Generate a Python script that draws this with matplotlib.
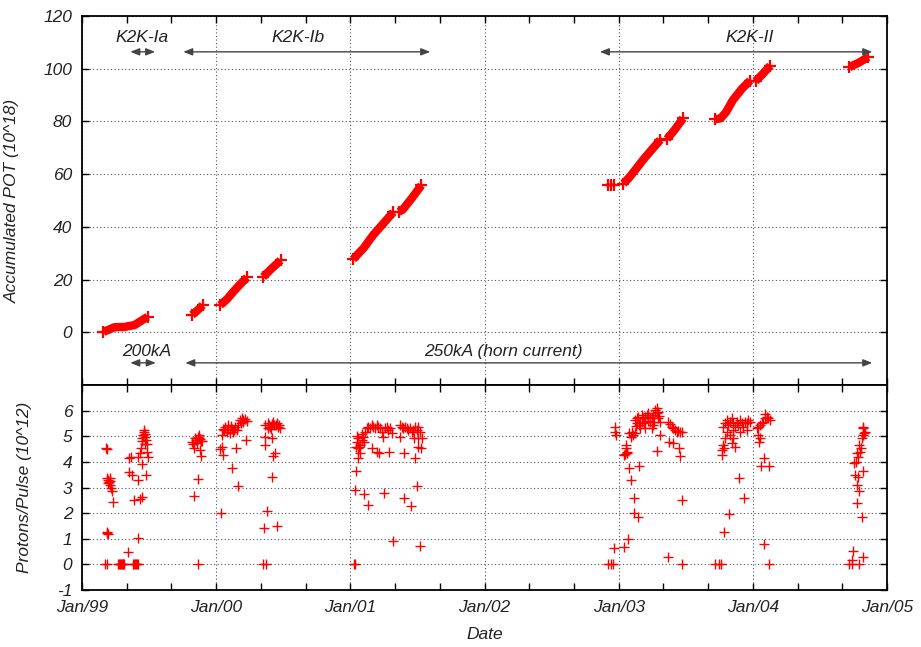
import matplotlib
matplotlib.use("Agg")
import matplotlib.pyplot as plt
import numpy as np

plt.rcParams['font.family'] = ['Liberation Sans', 'DejaVu Sans']
plt.rcParams['font.style'] = 'italic'
plt.rcParams['font.size'] = 12.5
plt.rcParams['axes.unicode_minus'] = False

# ---------------- data ----------------
year_ticks = [1999, 2000, 2001, 2002, 2003, 2004, 2005]
year_labels = ['Jan/99', 'Jan/00', 'Jan/01', 'Jan/02', 'Jan/03', 'Jan/04', 'Jan/05']

# accumulated POT (10^18), one list per beam run: (decimal year, value)
pot_run_99a = [(1999.16, 0.2), (1999.20, 1.0), (1999.24, 1.9), (1999.27, 2.0), (1999.32, 2.0),
               (1999.34, 2.3), (1999.39, 2.7), (1999.43, 4.0), (1999.49, 5.9)]
pot_run_99b = [(1999.82, 6.6), (1999.86, 8.3), (1999.90, 10.3)]
pot_run_00a = [(2000.03, 10.3), (2000.08, 12.5), (2000.13, 15.5), (2000.18, 18.3), (2000.23, 20.8)]
pot_run_00b = [(2000.35, 21.0), (2000.41, 24.0), (2000.48, 27.3)]
pot_run_01a = [(2001.02, 27.7), (2001.10, 32.0), (2001.17, 36.9), (2001.25, 41.5), (2001.32, 45.6)]
pot_run_01b = [(2001.36, 45.7), (2001.39, 46.5), (2001.46, 51.0), (2001.53, 55.8)]
pot_run_02 = [(2002.92, 55.9), (2002.945, 55.9), (2002.965, 56.0)]
pot_run_03a = [(2003.035, 56.4), (2003.08, 58.8), (2003.13, 62.0), (2003.18, 65.3), (2003.25, 69.5), (2003.31, 73.0)]
pot_run_03b = [(2003.36, 73.3), (2003.42, 77.0), (2003.48, 81.2)]
pot_run_03c = [(2003.72, 80.8), (2003.76, 81.2), (2003.80, 83.5), (2003.85, 88.0), (2003.92, 92.5), (2003.98, 95.5)]
pot_run_04a = [(2004.02, 95.3), (2004.07, 97.8), (2004.13, 101.2)]
pot_run_04b = [(2004.72, 100.6), (2004.79, 102.3), (2004.86, 104.4)]

# protons per pulse (10^12): (decimal year, value)
ppp_1999 = [(1999.179, 4.56), (1999.184, 4.50), (1999.175, 0.0), (1999.19, 0.0),
            (1999.184, 3.39), (1999.196, 3.30), (1999.201, 3.20), (1999.209, 3.10), (1999.216, 2.97),
            (1999.221, 2.86), (1999.191, 3.16), (1999.206, 3.39), (1999.211, 3.25), (1999.229, 2.45),
            (1999.186, 1.28), (1999.191, 1.17), (1999.189, 1.22),
            (1999.271, 0.0), (1999.276, 0.0), (1999.283, 0.0), (1999.289, 0.0), (1999.296, 0.0),
            (1999.302, 0.0), (1999.308, 0.0), (1999.313, 0.0),
            (1999.383, 0.0), (1999.390, 0.0), (1999.398, 0.0), (1999.405, 0.0), (1999.412, 0.0), (1999.418, 0.0),
            (1999.345, 0.47), (1999.420, 1.02),
            (1999.353, 4.14), (1999.365, 4.20), (1999.353, 3.60), (1999.370, 3.50), (1999.415, 3.30),
            (1999.390, 2.50), (1999.445, 2.64), (1999.432, 2.55),
            (1999.420, 4.20), (1999.432, 4.34), (1999.440, 4.53), (1999.450, 3.90), (1999.475, 3.49),
            (1999.482, 4.40), (1999.487, 4.69), (1999.494, 4.20),
            (1999.445, 4.92), (1999.457, 5.05), (1999.465, 5.18), (1999.470, 4.99), (1999.477, 4.86),
            (1999.450, 4.80), (1999.460, 5.25), (1999.467, 5.10), (1999.472, 4.70),
            (1999.822, 4.79), (1999.842, 4.92), (1999.862, 4.99), (1999.880, 4.90), (1999.892, 4.82),
            (1999.855, 4.73), (1999.872, 5.05), (1999.837, 4.53), (1999.880, 4.47), (1999.885, 4.23),
            (1999.867, 3.32), (1999.837, 2.68), (1999.867, 0.0), (1999.850, 4.85), (1999.830, 4.70),
            (1999.875, 4.95), (1999.887, 4.80)]
ppp_2000 = [(2000.029, 4.50), (2000.041, 4.60), (2000.053, 4.27), (2000.041, 5.05), (2000.053, 5.30),
            (2000.066, 5.38), (2000.091, 5.44), (2000.116, 5.30), (2000.128, 5.18), (2000.140, 5.38),
            (2000.153, 5.25), (2000.165, 5.44), (2000.178, 5.64), (2000.190, 5.70), (2000.203, 5.57),
            (2000.215, 5.68), (2000.227, 5.60), (2000.145, 4.56), (2000.121, 3.78), (2000.222, 4.86),
            (2000.165, 3.07), (2000.036, 1.99), (2000.078, 5.18), (2000.103, 5.12), (2000.060, 5.25),
            (2000.085, 5.30), (2000.110, 5.40), (2000.135, 5.25), (2000.185, 5.50), (2000.198, 5.62),
            (2000.364, 5.44), (2000.384, 5.50), (2000.401, 5.38), (2000.414, 5.47), (2000.434, 5.42),
            (2000.451, 5.50), (2000.463, 5.38), (2000.476, 5.31), (2000.389, 5.31), (2000.426, 5.57),
            (2000.364, 4.99), (2000.364, 4.66), (2000.419, 4.95), (2000.439, 4.34), (2000.426, 4.24),
            (2000.414, 3.42), (2000.376, 2.08), (2000.359, 1.43), (2000.451, 1.50), (2000.352, 0.0),
            (2000.369, 0.0), (2000.395, 5.45), (2000.408, 5.30), (2000.445, 5.45), (2000.470, 5.45)]
ppp_2001 = [(2001.027, 0.0), (2001.032, 0.0), (2001.040, 3.65), (2001.035, 2.90), (2001.055, 4.14),
            (2001.072, 4.34), (2001.055, 4.53), (2001.047, 4.79), (2001.060, 4.92), (2001.072, 4.66),
            (2001.084, 4.86), (2001.097, 4.99), (2001.104, 4.79), (2001.109, 5.18), (2001.122, 5.31),
            (2001.134, 5.38), (2001.147, 5.31), (2001.159, 5.44), (2001.171, 5.38), (2001.184, 5.31),
            (2001.196, 5.44), (2001.209, 5.38), (2001.221, 5.31), (2001.234, 5.18), (2001.246, 4.99),
            (2001.258, 5.31), (2001.271, 5.38), (2001.283, 5.25), (2001.296, 5.31), (2001.308, 5.12),
            (2001.159, 4.53), (2001.196, 4.40), (2001.214, 4.34), (2001.288, 4.40), (2001.402, 4.34),
            (2001.099, 2.75), (2001.134, 2.32), (2001.253, 2.80), (2001.320, 0.92),
            (2001.370, 5.44), (2001.383, 5.38), (2001.395, 5.31), (2001.407, 5.38), (2001.420, 5.31),
            (2001.432, 5.25), (2001.445, 5.31), (2001.457, 5.18), (2001.470, 5.25), (2001.482, 5.38),
            (2001.494, 5.25), (2001.507, 5.38), (2001.519, 5.18), (2001.532, 4.92), (2001.507, 4.92),
            (2001.370, 4.99), (2001.477, 4.92), (2001.507, 4.60), (2001.527, 4.56), (2001.482, 4.14),
            (2001.494, 3.07), (2001.402, 2.60), (2001.452, 2.28), (2001.519, 0.73),
            (2001.040, 4.60), (2001.050, 5.00), (2001.065, 4.60), (2001.090, 5.10)]
ppp_2003 = [(2002.923, 0.0), (2002.940, 0.0), (2002.960, 0.0), (2002.965, 0.65), (2003.042, 0.69),
            (2003.072, 0.99), (2002.973, 5.38), (2002.973, 5.18), (2002.980, 5.05),
            (2003.055, 4.66), (2003.055, 4.53), (2003.060, 4.40), (2003.047, 4.30), (2003.042, 4.27),
            (2003.065, 4.34), (2003.080, 5.12), (2003.097, 5.18), (2003.109, 5.05), (2003.089, 4.99),
            (2003.122, 5.12), (2003.075, 3.75), (2003.154, 3.84), (2003.089, 3.29), (2003.114, 2.60),
            (2003.114, 1.99), (2003.147, 1.86), (2003.365, 0.27), (2003.474, 0.0), (2003.474, 2.51),
            (2003.122, 5.64), (2003.134, 5.70), (2003.147, 5.77), (2003.159, 5.57), (2003.171, 5.83),
            (2003.184, 5.70), (2003.196, 5.77), (2003.209, 5.83), (2003.221, 5.90), (2003.234, 5.77),
            (2003.246, 5.70), (2003.258, 5.83), (2003.271, 6.03), (2003.283, 5.90), (2003.296, 5.70),
            (2003.308, 5.57), (2003.283, 6.12), (2003.159, 5.31), (2003.196, 5.31), (2003.246, 5.31),
            (2003.308, 5.05), (2003.283, 4.43),
            (2003.140, 5.50), (2003.175, 5.55), (2003.215, 5.60), (2003.265, 5.55), (2003.128, 5.40),
            (2003.150, 5.45), (2003.190, 5.50), (2003.230, 5.55), (2003.255, 5.45), (2003.300, 5.80),
            (2003.290, 5.95),
            (2003.370, 5.57), (2003.383, 5.47), (2003.395, 5.38), (2003.407, 5.31), (2003.420, 5.25),
            (2003.432, 5.18), (2003.445, 5.21), (2003.457, 5.16), (2003.470, 5.18), (2003.378, 4.79),
            (2003.402, 4.73), (2003.452, 4.53), (2003.457, 4.21),
            (2003.718, 0.0), (2003.750, 0.0), (2003.760, 0.0), (2003.785, 1.25), (2003.820, 1.97),
            (2003.934, 2.60), (2003.899, 3.36), (2003.768, 4.27), (2003.768, 4.47), (2003.775, 4.66),
            (2003.785, 4.56), (2003.867, 4.60), (2003.842, 4.73),
            (2003.780, 5.38), (2003.793, 5.50), (2003.805, 5.64), (2003.817, 5.44), (2003.830, 5.57),
            (2003.842, 5.70), (2003.855, 5.50), (2003.867, 5.38), (2003.879, 5.57), (2003.892, 5.44),
            (2003.904, 5.64), (2003.917, 5.50), (2003.929, 5.38), (2003.942, 5.57), (2003.954, 5.50),
            (2003.966, 5.64), (2003.979, 5.57), (2003.805, 5.18), (2003.830, 5.05), (2003.855, 5.25),
            (2003.904, 5.18), (2003.954, 5.25), (2003.793, 4.92), (2003.855, 4.92)]
ppp_2004 = [(2004.029, 5.31), (2004.041, 5.38), (2004.053, 5.44), (2004.066, 5.50), (2004.078, 5.57),
            (2004.091, 5.70), (2004.103, 5.77), (2004.116, 5.70), (2004.128, 5.64), (2004.091, 5.86),
            (2004.041, 5.05), (2004.048, 4.79), (2004.053, 4.95), (2004.083, 4.14), (2004.058, 3.84),
            (2004.123, 3.84), (2004.083, 0.79), (2004.123, 0.0),
            (2004.719, 0.0), (2004.737, 0.0), (2004.794, 0.0), (2004.749, 0.52), (2004.819, 0.30),
            (2004.739, 0.17), (2004.779, 2.38), (2004.811, 1.84), (2004.824, 3.65), (2004.794, 2.88),
            (2004.774, 3.10), (2004.761, 3.49), (2004.754, 3.95), (2004.769, 4.01), (2004.786, 4.20),
            (2004.799, 4.40), (2004.779, 4.34), (2004.794, 4.66), (2004.811, 4.92), (2004.824, 5.05),
            (2004.836, 5.18), (2004.824, 5.31), (2004.819, 5.38), (2004.831, 5.12), (2004.786, 3.42),
            (2004.804, 4.53)]

# period annotations: (label, start, end)
periods_top = [('K2K-Ia', 1999.36, 1999.545), ('K2K-Ib', 1999.755, 2001.595), ('K2K-II', 2002.86, 2004.89)]
periods_bottom = [('200kA', 1999.36, 1999.55), ('250kA (horn current)', 1999.77, 2004.89)]

# ---------------- figure ----------------
W, H = 921, 647
fig = plt.figure(figsize=(W / 100, H / 100), dpi=100)
ax1 = fig.add_axes([82 / W, 1 - 385 / H, 805 / W, 369 / H])
ax2 = fig.add_axes([82 / W, 1 - 590 / H, 805 / W, 205 / H])

red = '#ff0000'
txt = '#222222'
gridkw = dict(color='#555555', linestyle=(0, (1, 2.2)), linewidth=0.8)

for run in [pot_run_99a, pot_run_99b, pot_run_00a, pot_run_00b, pot_run_01a, pot_run_01b,
            pot_run_03a, pot_run_03b, pot_run_03c, pot_run_04a, pot_run_04b]:
    xs, ys = zip(*run)
    ax1.plot(xs, ys, '-', color=red, lw=6, solid_capstyle='butt', solid_joinstyle='round',
             marker='+', ms=8, mew=1.6, markevery=[0, len(xs) - 1])
xs, ys = zip(*pot_run_02)
ax1.plot(xs, ys, '-', color=red, lw=2, marker='+', ms=8, mew=1.6)

for grp in [ppp_1999, ppp_2000, ppp_2001, ppp_2003, ppp_2004]:
    xs, ys = zip(*grp)
    ax2.plot(xs, ys, linestyle='none', marker='+', color=red, ms=7, mew=1.0)

for ax in (ax1, ax2):
    ax.set_xlim(year_ticks[0], year_ticks[-1])
    ax.set_xticks(year_ticks)
    ax.set_xticks([y + f for y in year_ticks[:-1] for f in (1 / 3, 2 / 3)], minor=True)
    ax.tick_params(which='both', direction='in', length=5, width=1, top=True, right=True,
                   colors='black', labelcolor=txt, pad=7)
    ax.tick_params(axis='y', which='minor', left=False, right=False)
    for s in ax.spines.values():
        s.set_linewidth(1.3)
    ax.grid(True, which='major', **gridkw)

ax1.set_ylim(-20, 120)
ax1.set_yticks([0, 20, 40, 60, 80, 100, 120])
ax1.tick_params(axis='x', labelbottom=False)
ax1.set_ylabel('Accumulated POT (10^18)', color=txt)
ax1.yaxis.set_label_coords(-0.077, 0.5)

ax2.set_ylim(-1, 7)
ax2.set_yticks([-1, 0, 1, 2, 3, 4, 5, 6])
ax2.set_xticklabels(year_labels)
ax2.set_ylabel('Protons/Pulse (10^12)', color=txt)
ax2.yaxis.set_label_coords(-0.062, 0.5)
ax2.set_xlabel('Date', color=txt, labelpad=9)

arrowkw = dict(arrowstyle='<|-|>,head_length=0.45,head_width=0.18', color='#444444', lw=1,
               shrinkA=0, shrinkB=0, mutation_scale=12)
for label, a, b in periods_top:
    ax1.annotate('', xy=(a, 106.4), xytext=(b, 106.4), arrowprops=arrowkw)
text_top_x = [1999.45, 2000.61, 2003.98]
for (label, a, b), tx in zip(periods_top, text_top_x):
    ax1.text(tx, 111.7, label, ha='center', va='center', color=txt)
for label, a, b in periods_bottom:
    ax1.annotate('', xy=(a, -11.6), xytext=(b, -11.6), arrowprops=arrowkw)
text_bot_x = [1999.48, 2002.14]
for (label, a, b), tx in zip(periods_bottom, text_bot_x):
    ax1.text(tx, -7.3, label, ha='center', va='center', color=txt)

fig.savefig('out.png', dpi=100)
